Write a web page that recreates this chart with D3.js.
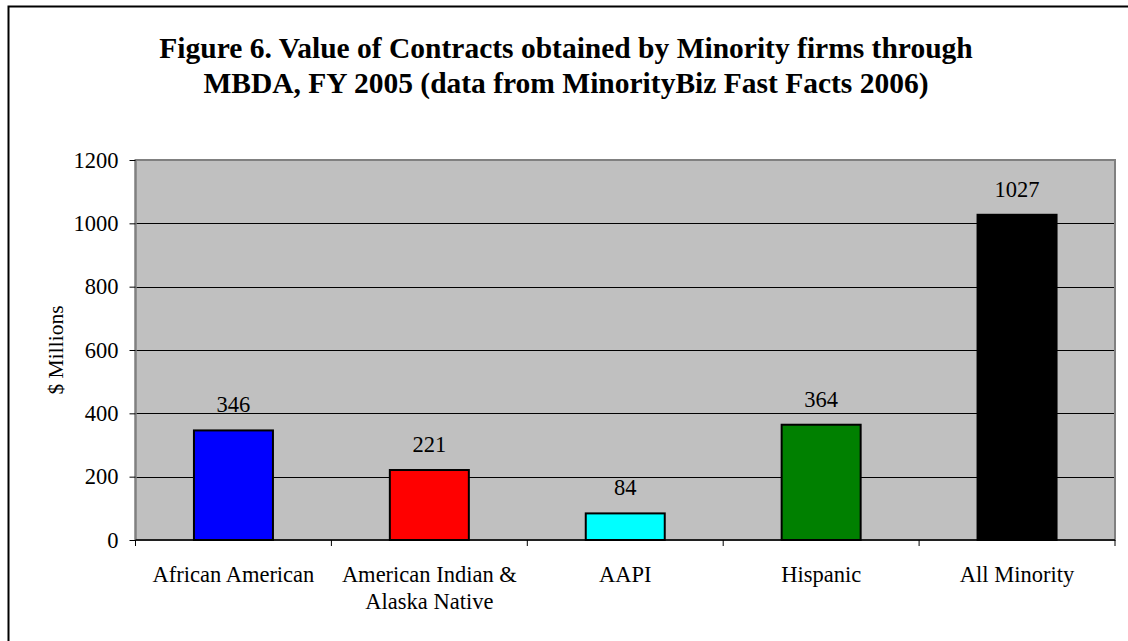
<!DOCTYPE html>
<html>
<head>
<meta charset="utf-8">
<script src="https://cdn.jsdelivr.net/npm/d3@7"></script>
<style>
  html, body { margin: 0; padding: 0; background: #fff; }
  svg { display: block; }
  text { font-family: "Liberation Serif", "Times New Roman", serif; }
</style>
</head>
<body>
<svg id="chart" width="1128" height="641"></svg>
<script>
const categories = [["African American"], ["American Indian &", "Alaska Native"], ["AAPI"], ["Hispanic"], ["All Minority"]];
const values = [346, 221, 84, 364, 1027];
const colors = ["#0000FF", "#FF0000", "#00FFFF", "#008000", "#000000"];
const yTicks = [0, 200, 400, 600, 800, 1000, 1200];
const titleLines = ["Figure 6. Value of Contracts obtained by Minority firms through", "MBDA, FY 2005 (data from MinorityBiz Fast Facts 2006)"];
const yTitle = "$ Millions";

const svg = d3.select("#chart");

// outer frame
svg.append("rect").attr("x", 8.5).attr("y", 6.5).attr("width", 1130).attr("height", 640)
  .attr("fill", "#fff").attr("stroke", "#000").attr("stroke-width", 2);

const plot = { left: 135.5, right: 1115, top: 160, bottom: 540 };

const x = d3.scaleBand().domain(d3.range(categories.length)).range([plot.left, plot.right]).paddingInner(0).paddingOuter(0);
const y = d3.scaleLinear().domain([0, 1200]).range([plot.bottom, plot.top]);

const FS = 22.5;

// title
const title = svg.append("text").attr("text-anchor", "middle").attr("font-weight", "bold").attr("font-size", 29.5);
titleLines.forEach((t, i) => title.append("tspan").attr("x", 566).attr("y", 58 + i * 35).text(t));

// plot background
svg.append("rect").attr("x", plot.left).attr("y", plot.top).attr("width", plot.right - plot.left).attr("height", plot.bottom - plot.top)
  .attr("fill", "#C0C0C0");

// gridlines
svg.append("g").selectAll("line").data(yTicks.filter(d => d > 0 && d < 1200)).join("line")
  .attr("x1", plot.left).attr("x2", plot.right).attr("y1", d => Math.round(y(d)) + 0.5).attr("y2", d => Math.round(y(d)) + 0.5)
  .attr("stroke", "#000").attr("stroke-width", 1);

// plot border (gray)
svg.append("rect").attr("x", plot.left).attr("y", plot.top).attr("width", plot.right - plot.left).attr("height", plot.bottom - plot.top)
  .attr("fill", "none").attr("stroke", "#808080").attr("stroke-width", 2);

// bars
const bw = 79;
svg.append("g").selectAll("rect").data(values).join("rect")
  .attr("x", (d, i) => x(i) + x.bandwidth() / 2 - bw / 2)
  .attr("y", d => y(d))
  .attr("width", bw)
  .attr("height", d => y(0) - y(d))
  .attr("fill", (d, i) => colors[i])
  .attr("stroke", "#000").attr("stroke-width", 2);

// value labels
svg.append("g").selectAll("text").data(values).join("text")
  .attr("x", (d, i) => x(i) + x.bandwidth() / 2)
  .attr("y", d => y(d) - 18)
  .attr("text-anchor", "middle").attr("font-size", FS).attr("fill", "#000")
  .text(d => d);

// y axis
const yAxis = d3.axisLeft(y).tickValues(yTicks).tickFormat(d3.format("d")).tickSize(6).tickPadding(11);
const ya = svg.append("g").attr("transform", `translate(${plot.left},0)`).call(yAxis);
ya.select(".domain").attr("stroke", "#808080").attr("stroke-width", 2).attr("d", `M0,${plot.top}V${plot.bottom}`);
ya.selectAll(".tick line").attr("stroke", "#000");
ya.selectAll(".tick text").attr("font-size", FS).attr("font-family", "Liberation Serif, serif").attr("fill", "#000");

// x axis
const xb = svg.append("g");
xb.append("line").attr("x1", plot.left).attr("x2", plot.right).attr("y1", plot.bottom).attr("y2", plot.bottom)
  .attr("stroke", "#000").attr("stroke-width", 1.5);
const bounds = d3.range(categories.length + 1).map(i => i < categories.length ? x(i) : plot.right);
xb.selectAll("line.t").data(bounds).join("line").attr("class", "t")
  .attr("x1", d => d).attr("x2", d => d).attr("y1", plot.bottom).attr("y2", plot.bottom + 6)
  .attr("stroke", "#000").attr("stroke-width", 1);

const xl = xb.selectAll("text").data(categories).join("text")
  .attr("text-anchor", "middle").attr("font-size", FS).attr("fill", "#000");
xl.each(function(lines, i) {
  const t = d3.select(this);
  lines.forEach((ln, j) => t.append("tspan").attr("x", x(i) + x.bandwidth() / 2).attr("y", 582 + j * 27).text(ln));
});

// y title
svg.append("text").attr("transform", `translate(63,${(plot.top + plot.bottom) / 2}) rotate(-90)`)
  .attr("text-anchor", "middle").attr("font-size", 21.5).attr("fill", "#000").text(yTitle);
</script>
</body>
</html>
